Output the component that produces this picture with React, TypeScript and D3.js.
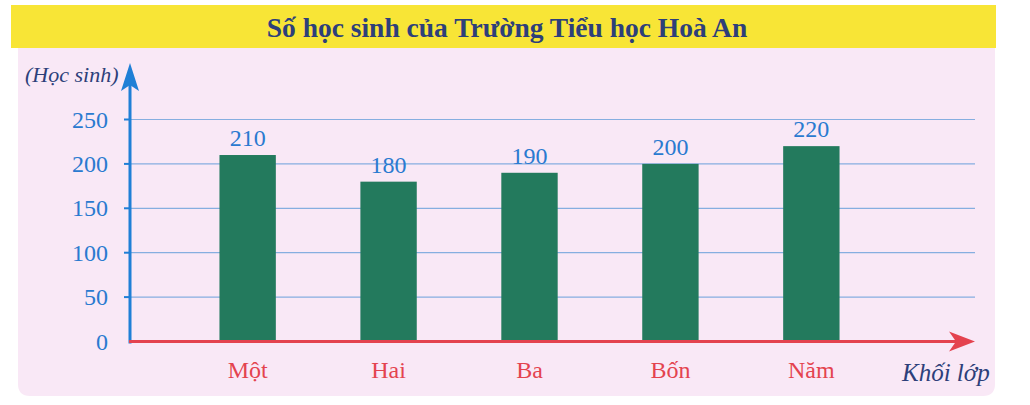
import React from 'react';
import * as d3 from 'd3';

const title = 'Số học sinh của Trường Tiểu học Hoà An';
const grades = ['Một', 'Hai', 'Ba', 'Bốn', 'Năm'];
const students = [210, 180, 190, 200, 220];
const yTicks = [0, 50, 100, 150, 200, 250];
const yLabel = '(Học sinh)';
const xLabel = 'Khối lớp';

const W = 1030;
const H = 405;
const FONT = '"Liberation Serif", "DejaVu Serif", Times, serif';

const axisBlue = '#1f7fd6';
const textBlue = '#2a7ad0';
const navy = '#2d3f7a';
const red = '#e4434f';
const barGreen = '#237a5d';
const gridBlue = '#86aee0';

export default function App() {
  const x0 = 130;
  const xEnd = 975;
  const y0 = 341.5;

  const x = d3.scaleBand<string>()
    .domain(grades)
    .range([149, 910])
    .paddingInner(0.6)
    .paddingOuter(0.5);

  const y = d3.scaleLinear()
    .domain([0, 250])
    .range([y0, 119.5]);

  return (
    <div style={{ position: 'absolute', left: 0, top: 0 }}>
      <svg width={W} height={H} style={{ display: 'block' }} fontFamily={FONT}>
        <rect x={0} y={0} width={W} height={H} fill="#ffffff" />
        {/* pink panel with rounded bottom */}
        <path
          d="M18,44 H995 V384 Q995,396 983,396 H30 Q18,396 18,384 Z"
          fill="#f9e8f6"
        />
        {/* yellow title band */}
        <rect x={11} y={5} width={985} height={43} fill="#f8e536" />
        <text x={507} y={37} textAnchor="middle" fontSize={27.5} fontWeight="bold" fill={navy}>
          {title}
        </text>

        {/* gridlines */}
        {yTicks.filter(t => t > 0).map(t => (
          <line key={t} x1={x0} x2={xEnd} y1={y(t)} y2={y(t)} stroke={gridBlue} strokeWidth={1.2} />
        ))}

        {/* bars */}
        {grades.map((g, i) => (
          <g key={g}>
            <rect
              x={x(g)}
              y={y(students[i])}
              width={x.bandwidth()}
              height={y0 - y(students[i])}
              fill={barGreen}
            />
            <text
              x={(x(g) as number) + x.bandwidth() / 2}
              y={y(students[i]) - 9}
              textAnchor="middle"
              fontSize={24}
              fill={textBlue}
            >
              {students[i]}
            </text>
            <text
              x={(x(g) as number) + x.bandwidth() / 2}
              y={378}
              textAnchor="middle"
              fontSize={24}
              fill={red}
            >
              {g}
            </text>
          </g>
        ))}

        {/* y axis */}
        <line x1={x0} x2={x0} y1={y0 + 2} y2={80} stroke={axisBlue} strokeWidth={3} />
        <path d={`M${x0},63 L${x0 + 9},91 L${x0},85 L${x0 - 9},91 Z`} fill={axisBlue} />
        {yTicks.map(t => (
          <g key={t}>
            {t > 0 && <line x1={x0 - 6} x2={x0} y1={y(t)} y2={y(t)} stroke={axisBlue} strokeWidth={2} />}
            <text x={108} y={y(t) + 8} textAnchor="end" fontSize={24} fill={textBlue}>
              {t}
            </text>
          </g>
        ))}
        <text x={25} y={82} fontSize={22} fontStyle="italic" fill={navy}>
          {yLabel}
        </text>

        {/* x axis */}
        <line x1={x0 - 1} x2={xEnd - 12} y1={y0} y2={y0} stroke={red} strokeWidth={3} />
        <path d={`M${xEnd},${y0} L${xEnd - 26},${y0 - 10} L${xEnd - 19},${y0} L${xEnd - 26},${y0 + 10} Z`} fill={red} />
        <text x={902} y={381} fontSize={25} fontStyle="italic" fill={navy}>
          {xLabel}
        </text>
      </svg>
    </div>
  );
}
